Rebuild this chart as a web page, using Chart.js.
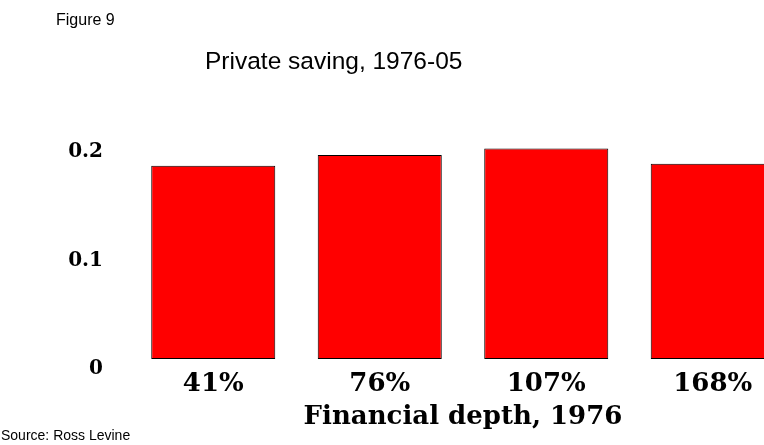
<!DOCTYPE html>
<html>
<head>
<meta charset="utf-8">
<script src="https://cdn.jsdelivr.net/npm/chart.js@4"></script>
<style>
  body { margin: 0; background: #fff; }
  #wrap { position: relative; width: 764px; height: 445px; overflow: hidden; }
  #chart { position: absolute; left: 0; top: 0; }
  .txt { position: absolute; font-family: Arial, "Liberation Sans", sans-serif; color: #000; white-space: nowrap; line-height: 1; }
</style>
</head>
<body>
<div id="wrap">
  <canvas id="chart" width="830" height="445"></canvas>
  <div class="txt" style="left:56px; top:12px; font-size:16px;">Figure 9</div>
  <div class="txt" style="left:205px; top:49px; font-size:24.5px;">Private saving, 1976-05</div>
  <div class="txt" style="left:1px; top:428px; font-size:14px;">Source: Ross Levine</div>
</div>
<script>
const categories = ['41%', '76%', '107%', '168%'];
const savingValues = [0.178, 0.188, 0.194, 0.180];
const yTicks = [0, 0.1, 0.2];
const xTitle = 'Financial depth, 1976';

const serif = '"DejaVu Serif", "Liberation Serif", serif';

const ctx = document.getElementById('chart');
new Chart(ctx, {
  type: 'bar',
  data: {
    labels: categories,
    datasets: [{
      data: savingValues,
      backgroundColor: '#ff0000',
      borderColor: '#000',
      borderWidth: 1,
      borderSkipped: false,
      categoryPercentage: 1,
      barPercentage: 0.745
    }]
  },
  options: {
    responsive: false,
    animation: false,
    layout: { padding: { left: 0, right: 34, top: 142, bottom: 0 } },
    plugins: { legend: { display: false }, tooltip: { enabled: false } },
    scales: {
      x: {
        grid: { display: false },
        border: { display: false },
        ticks: {
          color: '#000',
          padding: 2,
          font: { family: serif, size: 26, weight: 'bold' }
        },
        title: {
          display: true,
          text: xTitle,
          color: '#000',
          padding: { top: 0, bottom: 12 },
          font: { family: serif, size: 26, weight: 'bold' }
        },
        afterFit: s => { s.height = 86; }
      },
      y: {
        min: 0,
        max: 0.2,
        grid: { display: false },
        border: { display: false },
        afterBuildTicks: s => { s.ticks = yTicks.map(v => ({ value: v })); },
        ticks: {
          color: '#000',
          padding: 19,
          labelOffset: 10,
          callback: v => String(v),
          font: { family: serif, size: 20, weight: 'bold' }
        },
        afterFit: s => { s.width = 130; }
      }
    }
  }
});
</script>
</body>
</html>
